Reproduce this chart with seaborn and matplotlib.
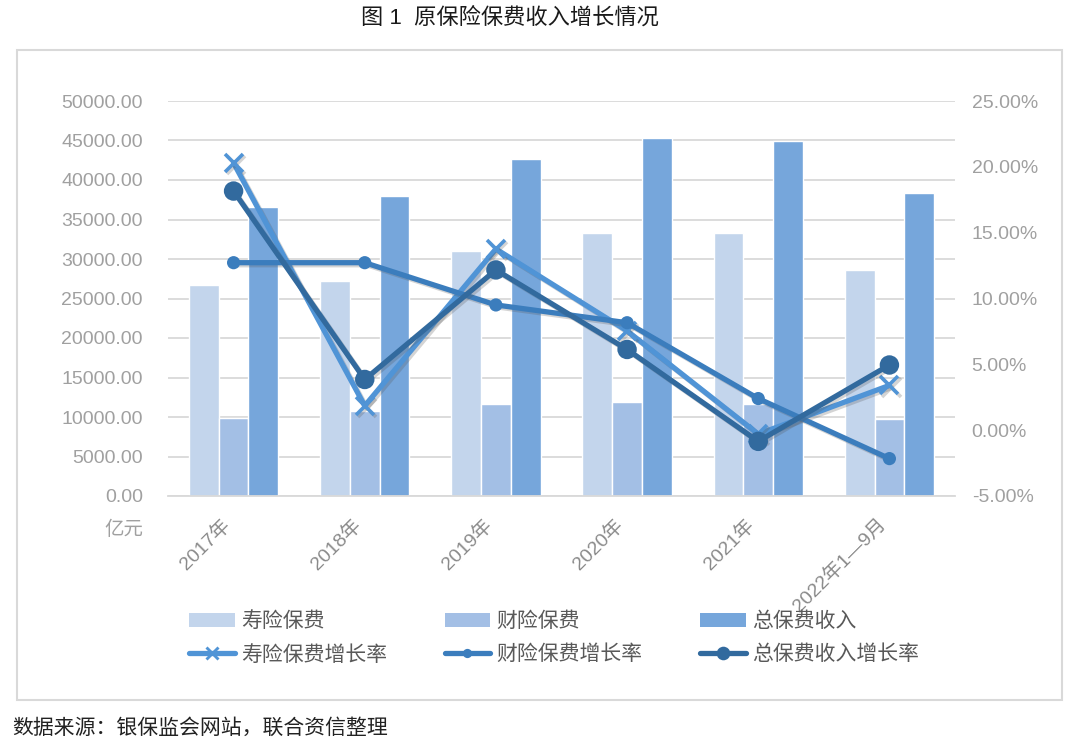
import matplotlib
matplotlib.use("Agg")
import matplotlib.pyplot as plt
import matplotlib.patheffects as pe
from matplotlib.patches import Rectangle, Patch
from matplotlib.lines import Line2D
from matplotlib.ticker import FuncFormatter
import numpy as np
import pandas as pd
import seaborn as sns

# ---------------- data ----------------
categories = ["2017年", "2018年", "2019年", "2020年", "2021年", "2022年1—9月"]
life_premium = [26746, 27247, 30995, 33329, 33229, 28608]
property_premium = [9835, 10770, 11649, 11929, 11671, 9747]
total_premium = [36581, 38017, 42645, 45257, 44900, 38354]
life_growth = [20.29, 1.85, 13.76, 7.54, -0.30, 3.40]
property_growth = [12.72, 12.72, 9.51, 8.16, 2.40, -2.16]
total_growth = [18.16, 3.85, 12.17, 6.13, -0.85, 4.95]

bar_names = ["寿险保费", "财险保费", "总保费收入"]
line_names = ["寿险保费增长率", "财险保费增长率", "总保费收入增长率"]

bar_colors = ["#C3D5EC", "#A3BFE5", "#76A6DB"]
line_colors = ["#5094D6", "#3B7DBD", "#326A9E"]

sns.set_theme(style="white")
plt.rcParams["font.family"] = ["Liberation Sans", "Noto Sans CJK SC", "DejaVu Sans"]
plt.rcParams["axes.unicode_minus"] = False

W, H = 1080, 747
fig = plt.figure(figsize=(W / 100, H / 100), dpi=100)
ax = fig.add_axes([168 / W, 1 - 496 / H, (955 - 168) / W, (496 - 101) / H])

df = pd.DataFrame({
    "category": categories * 3,
    "series": [bar_names[0]] * 6 + [bar_names[1]] * 6 + [bar_names[2]] * 6,
    "value": life_premium + property_premium + total_premium,
})
sns.barplot(data=df, x="category", y="value", hue="series", hue_order=bar_names,
            palette=bar_colors, width=0.68, gap=0, saturation=1, errorbar=None,
            legend=False, ax=ax)

tick_gray = "#A0A0A0"
ax.set_ylim(0, 50000)
ax.set_yticks(np.arange(0, 50001, 5000))
ax.yaxis.set_major_formatter(FuncFormatter(lambda v, p: f"{v:.2f}"))
ax.yaxis.grid(True, color="#D9D9D9", lw=1.3)
ax.xaxis.grid(False)
ax.set_axisbelow(True)
for s in ["left", "right", "top"]:
    ax.spines[s].set_visible(False)
ax.spines["bottom"].set_color("#D9D9D9")
ax.spines["bottom"].set_linewidth(1.3)
ax.tick_params(axis="y", length=0, pad=18, labelsize=14, labelcolor=tick_gray)
ax.tick_params(axis="x", length=0, pad=14, labelsize=14, labelcolor="#8A8A8A")
ax.set_xlabel("")
ax.set_ylabel("")

ax2 = ax.twinx()
x_pos = np.arange(len(categories))
shadow = [pe.SimpleLineShadow(offset=(1.5, -1.5), alpha=0.25, shadow_color="#555555"), pe.Normal()]
specs = [
    (life_growth, line_colors[0], dict(marker="x", markersize=13, markeredgewidth=2.6)),
    (property_growth, line_colors[1], dict(marker="o", markersize=9.5, markeredgewidth=0)),
    (total_growth, line_colors[2], dict(marker="o", markersize=14, markeredgewidth=0)),
]
for vals, col, mk in specs:
    sns.lineplot(x=x_pos, y=vals, ax=ax2, color=col, lw=3.8, errorbar=None,
                 markeredgecolor=col, path_effects=shadow, **mk)

ax2.set_ylim(-5, 25)
ax2.set_yticks(np.arange(-5, 25.1, 5))
ax2.yaxis.set_major_formatter(FuncFormatter(lambda v, p: f"{v:.2f}%"))
for s in ["left", "right", "top", "bottom"]:
    ax2.spines[s].set_visible(False)
ax2.tick_params(axis="y", length=0, pad=12, labelsize=14, labelcolor=tick_gray)
ax2.grid(False)
ax2.set_ylabel("")
ax.set_xlim(-0.5, len(categories) - 0.5)

ax.set_xticks(x_pos)
ax.set_xticklabels(categories, rotation=45, ha="right")

# unit label
fig.text(143 / W, 1 - 530 / H, "亿元", ha="right", va="center", fontsize=14, color=tick_gray)

# legend
handles = []
for i in range(3):
    handles.append(Patch(facecolor=bar_colors[i], edgecolor="none", label=bar_names[i]))
    mk = specs[i][2]
    handles.append(Line2D([0], [0], color=line_colors[i], lw=3.8, marker=mk["marker"],
                          markersize=mk["markersize"] * 0.7, markeredgewidth=mk["markeredgewidth"] * 0.8,
                          markeredgecolor=line_colors[i], label=line_names[i]))
fig.legend(handles=handles, ncol=3, loc="center left",
           bbox_to_anchor=(189 / W, 1 - 638 / H), frameon=False, fontsize=15,
           handlelength=2.2, handleheight=0.7, handletextpad=0.3, columnspacing=2.75,
           labelspacing=0.65, borderpad=0, borderaxespad=0, labelcolor="#595959")

# title and source
fig.text(510 / W, 1 - 18 / H, "图 1  原保险保费收入增长情况", ha="center", va="center",
         fontsize=16, color="#1A1A1A")
fig.text(12 / W, 1 - 728 / H, "数据来源：银保监会网站，联合资信整理", ha="left", va="center",
         fontsize=15, color="#222222")

# outer border
fig.patches.append(Rectangle((17 / W, 1 - 700 / H), (1062 - 17) / W, (700 - 50) / H,
                             transform=fig.transFigure, fill=False, edgecolor="#D9D9D9", lw=1.5))

fig.savefig("out.png", dpi=100)
